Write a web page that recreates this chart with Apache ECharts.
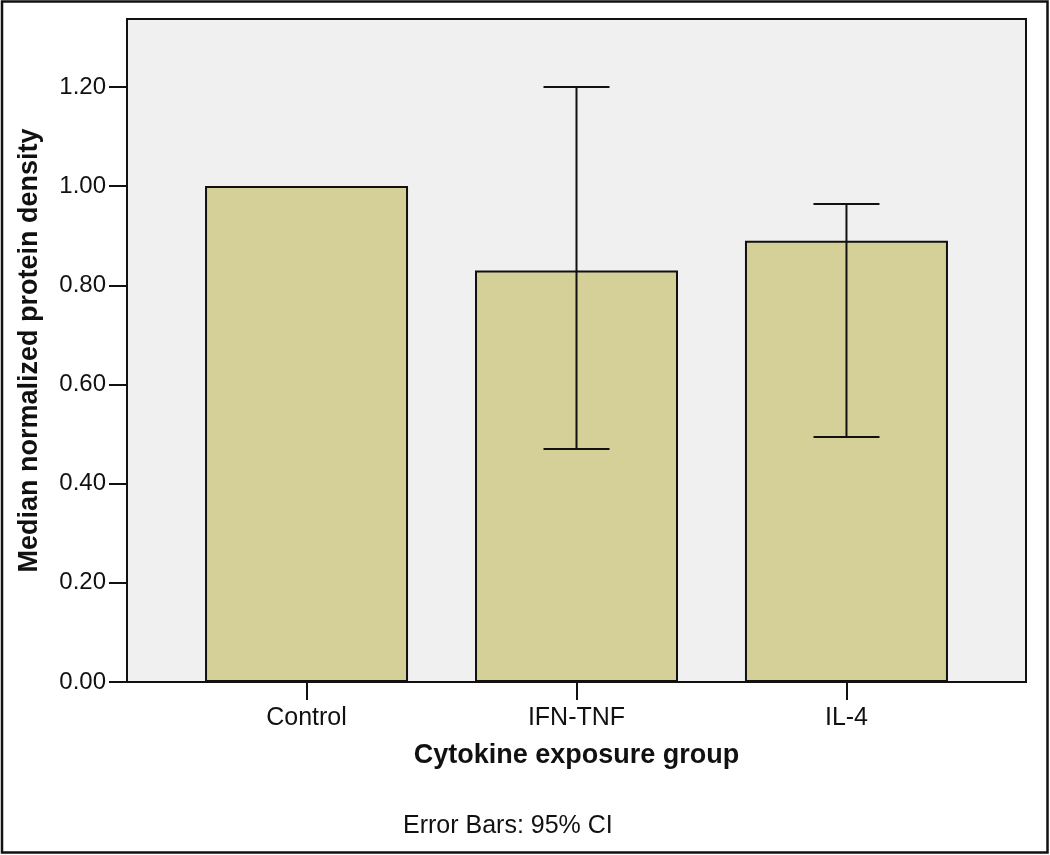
<!DOCTYPE html>
<html>
<head>
<meta charset="utf-8">
<script src="https://cdn.jsdelivr.net/npm/echarts@6/dist/echarts.min.js"></script>
<style>
html,body{margin:0;padding:0;background:#fff;}
#chart{width:1050px;height:855px;}
</style>
</head>
<body>
<div id="chart"></div>
<script>
const categories = ['Control', 'IFN-TNF', 'IL-4'];
const medians = [1.00, 0.83, 0.89];
const ciLow = [null, 0.47, 0.494];
const ciHigh = [null, 1.20, 0.964];
const yTicks = [0, 0.2, 0.4, 0.6, 0.8, 1.0, 1.2];
const catPositions = [0, 1, 2];

const barData = medians.map((v, i) => [catPositions[i], v]);
const errData = [];
for (let i = 0; i < categories.length; i++) {
  if (ciLow[i] != null) errData.push([catPositions[i], ciLow[i], ciHigh[i]]);
}

const FONT = '"Liberation Sans", Arial, sans-serif';
const TXT = '#111';

const chart = echarts.init(document.getElementById('chart'), null, {renderer: 'canvas'});
chart.setOption({
  backgroundColor: '#ffffff',
  animation: false,
  textStyle: {fontFamily: FONT},
  grid: {
    left: 127, top: 19, right: 24, bottom: 173,
    show: true, backgroundColor: '#f0f0f0', borderColor: '#111', borderWidth: 2,
    containLabel: false
  },
  xAxis: {
    type: 'value',
    min: -0.665, max: 2.665,
    splitLine: {show: false},
    axisLine: {show: true, onZero: false, lineStyle: {color: '#111', width: 2}},
    axisTick: {show: true, length: 18, lineStyle: {color: '#111', width: 2}, customValues: catPositions},
    axisLabel: {
      customValues: catPositions, margin: 24, color: TXT, fontSize: 25, fontFamily: FONT,
      formatter: v => categories[Math.round(v)]
    },
    name: 'Cytokine exposure group',
    nameLocation: 'middle', nameGap: 60,
    nameTextStyle: {color: TXT, fontSize: 27, fontWeight: 'bold', fontFamily: FONT}
  },
  yAxis: {
    type: 'value',
    min: 0, max: 1.337,
    splitLine: {show: false},
    axisLine: {show: true, onZero: false, lineStyle: {color: '#111', width: 2}},
    axisTick: {show: true, length: 18, lineStyle: {color: '#111', width: 2}, customValues: yTicks},
    axisLabel: {
      customValues: yTicks, margin: 21, color: TXT, fontSize: 24, fontFamily: FONT,
      formatter: v => v.toFixed(2)
    },
    name: 'Median normalized protein density',
    nameLocation: 'middle', nameGap: 84, nameRotate: 90,
    nameTextStyle: {color: TXT, fontSize: 27, fontWeight: 'bold', fontFamily: FONT}
  },
  series: [
    {
      type: 'bar',
      data: barData,
      barWidth: 203,
      itemStyle: {color: '#d4d098', borderColor: '#111', borderWidth: 2}
    },
    {
      type: 'custom',
      data: errData,
      encode: {x: 0, y: [1, 2]},
      z: 5,
      renderItem: function (params, api) {
        const x = api.value(0);
        const lo = api.coord([x, api.value(1)]);
        const hi = api.coord([x, api.value(2)]);
        const hw = 33;
        const style = {stroke: '#111', lineWidth: 2};
        return {
          type: 'group',
          children: [
            {type: 'line', shape: {x1: lo[0], y1: lo[1], x2: hi[0], y2: hi[1]}, style: style},
            {type: 'line', shape: {x1: lo[0] - hw, y1: lo[1], x2: lo[0] + hw, y2: lo[1]}, style: style},
            {type: 'line', shape: {x1: hi[0] - hw, y1: hi[1], x2: hi[0] + hw, y2: hi[1]}, style: style}
          ]
        };
      }
    }
  ],
  graphic: [
    {
      type: 'rect', z: 100, silent: true,
      shape: {x: 2, y: 1.5, width: 1045.5, height: 851},
      style: {fill: 'none', stroke: '#111', lineWidth: 2.5}
    },
    {
      type: 'text', left: 403, top: 814,
      style: {text: 'Error Bars: 95% CI', fill: TXT, fontSize: 25, fontFamily: FONT}
    }
  ]
});
</script>
</body>
</html>
